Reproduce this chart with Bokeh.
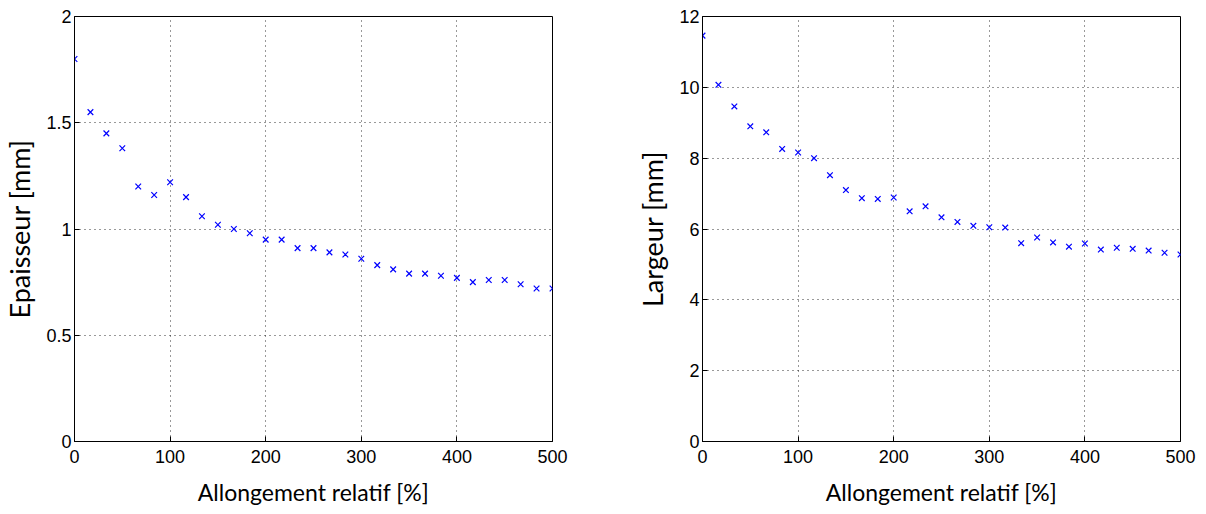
from bokeh.plotting import figure
from bokeh.layouts import row
from bokeh.models import CustomJSTickFormatter, FixedTicker, Range1d
from bokeh.embed import file_html
from bokeh.resources import INLINE

allongement = [0, 16.67, 33.33, 50, 66.67, 83.33, 100, 116.67, 133.33, 150, 166.67,
               183.33, 200, 216.67, 233.33, 250, 266.67, 283.33, 300, 316.67, 333.33,
               350, 366.67, 383.33, 400, 416.67, 433.33, 450, 466.67, 483.33, 500]
epaisseur = [1.80, 1.55, 1.45, 1.38, 1.20, 1.16, 1.22, 1.15, 1.06, 1.02, 1.00,
             0.98, 0.95, 0.95, 0.91, 0.91, 0.89, 0.88, 0.86, 0.83, 0.81,
             0.79, 0.79, 0.78, 0.77, 0.75, 0.76, 0.76, 0.74, 0.72, 0.72]
largeur = [11.46, 10.07, 9.46, 8.90, 8.73, 8.26, 8.16, 8.00, 7.52, 7.10, 6.87,
           6.85, 6.89, 6.50, 6.64, 6.33, 6.20, 6.09, 6.05, 6.04, 5.60,
           5.76, 5.62, 5.50, 5.59, 5.42, 5.47, 5.44, 5.39, 5.33, 5.28]
x_ticks = [0, 100, 200, 300, 400, 500]
y_ticks_left = [0, 0.5, 1, 1.5, 2]
y_ticks_right = [0, 2, 4, 6, 8, 10, 12]

TICK_FONT = "Liberation Sans"
LABEL_FONT = "Lato"


def make_fig(y, yticks, ymax, ylabel, border_left, border_right):
    p = figure(frame_width=478, frame_height=425, output_backend="svg",
               toolbar_location=None, min_border_left=border_left,
               min_border_right=border_right, min_border_top=16, min_border_bottom=70,
               x_range=Range1d(0, 500), y_range=Range1d(0, ymax))
    p.scatter(allongement, y, marker="x", size=8, line_color="#0000ff", line_width=1.2)
    p.outline_line_color = "black"
    p.outline_line_width = 1
    for ax in (p.xaxis[0], p.yaxis[0]):
        ax.axis_line_color = "black"
        ax.major_tick_in = 5
        ax.major_tick_out = 0
        ax.minor_tick_in = 0
        ax.minor_tick_out = 0
        ax.major_tick_line_color = "black"
        ax.major_label_text_font = TICK_FONT
        ax.major_label_text_font_size = "18px"
        ax.major_label_text_color = "black"
        ax.axis_label_text_font = LABEL_FONT
        ax.axis_label_text_font_style = "normal"
        ax.axis_label_text_color = "black"
    p.xaxis.axis_label_text_font_size = "23px"
    p.yaxis.axis_label_text_font_size = "27px"
    p.xaxis.ticker = FixedTicker(ticks=x_ticks)
    p.yaxis.ticker = FixedTicker(ticks=yticks)
    p.yaxis.formatter = CustomJSTickFormatter(code="return tick.toString();")
    p.xaxis.formatter = CustomJSTickFormatter(code="return tick.toString();")
    p.xaxis.axis_label = "Allongement relatif [%]"
    p.yaxis.axis_label = ylabel
    p.xaxis.major_label_standoff = 8
    p.yaxis.major_label_standoff = 3
    p.xaxis.axis_label_standoff = 12
    p.yaxis.axis_label_standoff = 7
    for g in (p.xgrid[0], p.ygrid[0]):
        g.grid_line_color = "black"
        g.grid_line_alpha = 0.8
        g.grid_line_dash = "1 4"
        g.grid_line_width = 1
    p.background_fill_color = "white"
    p.border_fill_color = "white"
    return p


p1 = make_fig(epaisseur, y_ticks_left, 2, "Epaisseur [mm]", 74, 40)
p2 = make_fig(largeur, y_ticks_right, 12, "Largeur [mm]", 110, 16)
layout = row(p1, p2)

open("out.html", "w").write(file_html(layout, INLINE))
